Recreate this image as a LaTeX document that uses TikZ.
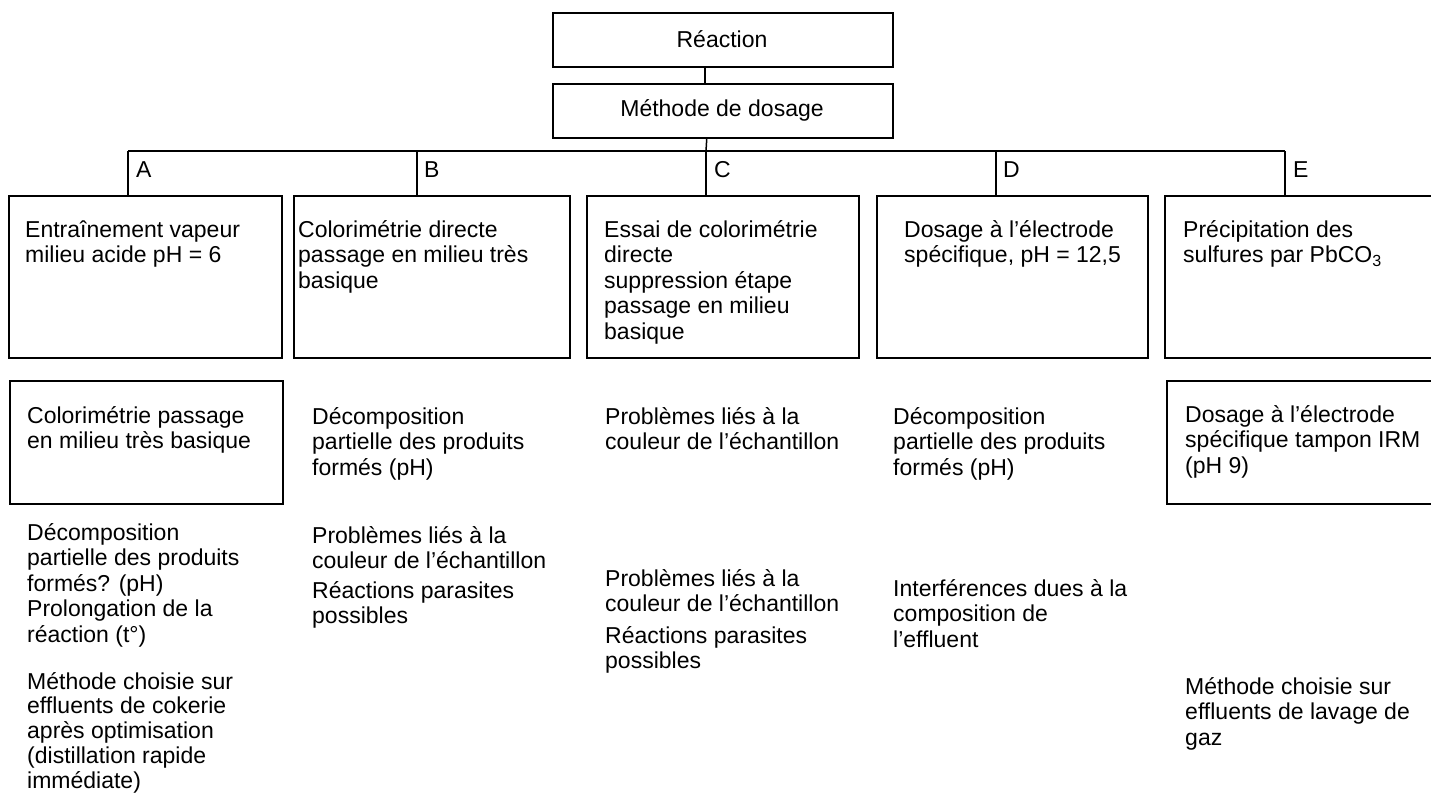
\documentclass[tikz,border=0pt]{standalone}
\usepackage{fontspec}
\setmainfont{Liberation Sans}
\newcommand\diafont{\fontsize{23}{25.6}\selectfont}
\newcommand\tx[1]{\parbox[t]{330pt}{\raggedright #1}}
\begin{document}
\begin{tikzpicture}[x=1pt,y=-1pt,
  box/.style={draw, line width=1.5pt, rectangle, inner sep=0pt, anchor=north west},
  txt/.style={anchor=base west, inner sep=0pt, font=\diafont},
  ctr/.style={inner sep=0pt, font=\diafont},
  conn/.style={line width=1.5pt}]
\useasboundingbox (0,0) rectangle (1431,796);
\clip (0,0) rectangle (1431,796);
% header boxes
\node[box, minimum width=340pt, minimum height=54pt] (rea) at (552,12) {};
\node[ctr] (reat) at (722,39) {Réaction};
\node[box, minimum width=340pt, minimum height=54pt] (met) at (552,83) {};
\node[ctr] (mett) at (722,110) {Méthode de dosage};
% row 1 boxes
\node[box, minimum width=273pt, minimum height=162pt] (bA) at (8,195) {};
\node[box, minimum width=276pt, minimum height=162pt] (bB) at (293,195) {};
\node[box, minimum width=272pt, minimum height=162pt] (bC) at (586,195) {};
\node[box, minimum width=271pt, minimum height=162pt] (bD) at (876,195) {};
\node[box, minimum width=290pt, minimum height=162pt] (bE) at (1164,195) {};
% row 2 boxes
\node[box, minimum width=273pt, minimum height=123pt] (cA) at (9,380) {};
\node[box, minimum width=290pt, minimum height=123pt] (cE) at (1166,380) {};
% connectors
\coordinate (jA) at (128,151);
\coordinate (jB) at (417,151);
\coordinate (jC) at (706,151);
\coordinate (jD) at (996,151);
\coordinate (jE) at (1285,151);
\draw[conn] ([xshift=-18pt]rea.south) -- ([xshift=-18pt]met.north);
\draw[conn] ([xshift=-16pt]met.south) -- (jC);
\draw[conn] (jA) -- (jE);
\draw[conn] (jA) -- (jA |- bA.north);
\draw[conn] (jB) -- (jB |- bB.north);
\draw[conn] (jC) -- (jC |- bC.north);
\draw[conn] (jD) -- (jD |- bD.north);
\draw[conn] (jE) -- (jE |- bE.north);
% branch labels
\node[txt] (lA) at (136,177) {A};
\node[txt] (lB) at (424,177) {B};
\node[txt] (lC) at (714,177) {C};
\node[txt] (lD) at (1003,177) {D};
\node[txt] (lE) at (1293,177) {E};
% row 1 texts
\node[txt] (tA1) at (25,237) {\tx{Entraînement vapeur\\milieu acide pH = 6}};
\node[txt] (tB1) at (298,237) {\tx{Colorimétrie directe\\passage en milieu très\\basique}};
\node[txt] (tC1) at (604,237) {\tx{Essai de colorimétrie\\directe\\suppression étape\\passage en milieu\\basique}};
\node[txt] (tD1) at (904,237) {\tx{Dosage à l'électrode\\spécifique, pH = 12,5}};
\node[txt] (tE1) at (1183,237) {\tx{Précipitation des\\sulfures par PbCO\textsubscript{3}}};
% row 2 texts
\node[txt] (tA2) at (27,423) {\tx{Colorimétrie passage\\en milieu très basique}};
\node[txt] (tB2) at (312,424) {\tx{Décomposition\\partielle des produits\\formés (pH)}};
\node[txt] (tC2) at (605,424) {\tx{Problèmes liés à la\\couleur de l'échantillon}};
\node[txt] (tD2) at (893,424) {\tx{Décomposition\\partielle des produits\\formés (pH)}};
\node[txt] (tE2) at (1185,422) {\tx{Dosage à l'électrode\\spécifique tampon IRM\\(pH 9)}};
% row 3 texts
\node[txt] (tA3) at (27,540) {\tx{Décomposition\\partielle des produits\\formés? (pH)\\Prolongation de la\\réaction (t°)}};
\node[txt] (tB3) at (312,543) {\tx{Problèmes liés à la\\couleur de l'échantillon\\[4pt]Réactions parasites\\possibles}};
\node[txt] (tC3) at (605,586) {\tx{Problèmes liés à la\\couleur de l'échantillon\\[6pt]Réactions parasites\\possibles}};
\node[txt] (tD3) at (893,596) {\tx{Interférences dues à la\\composition de\\l'effluent}};
% row 4 texts
\node[txt] (tA4) at (27,689) {\tx{Méthode choisie sur\\[-0.8pt]effluents de cokerie\\[-0.8pt]après optimisation\\[-0.8pt](distillation rapide\\[-0.8pt]immédiate)}};
\node[txt] (tE3) at (1185,694) {\tx{Méthode choisie sur\\effluents de lavage de\\gaz}};
\end{tikzpicture}
\end{document}
